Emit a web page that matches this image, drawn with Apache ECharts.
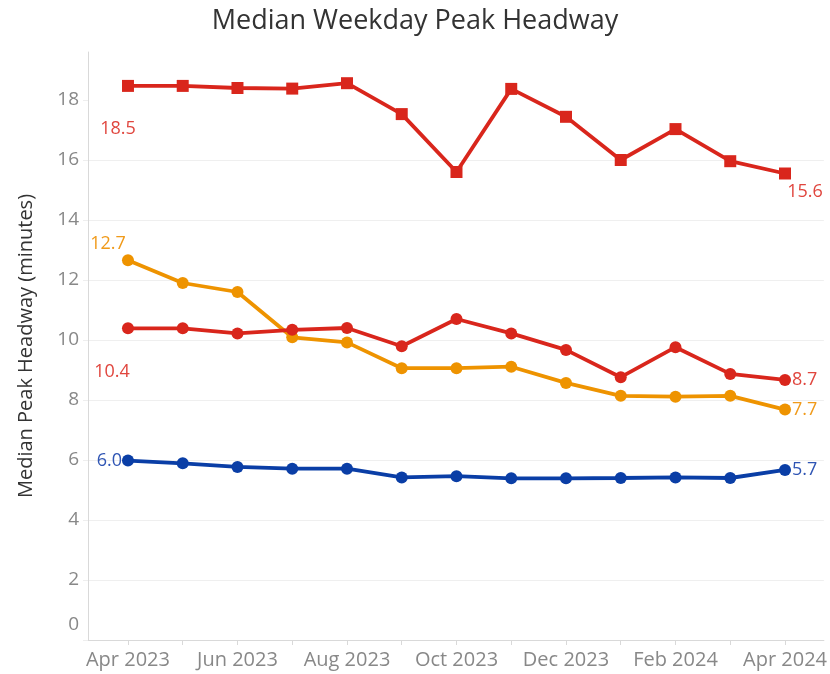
<!DOCTYPE html>
<html>
<head>
<meta charset="utf-8">
<script src="https://cdn.jsdelivr.net/npm/echarts@6/dist/echarts.min.js"></script>
<style>
  html, body { margin: 0; padding: 0; background: #fff; }
  #chart { width: 830px; height: 674px; }
</style>
</head>
<body>
<div id="chart"></div>
<script>
const months = ['Apr 2023', 'May 2023', 'Jun 2023', 'Jul 2023', 'Aug 2023', 'Sep 2023', 'Oct 2023',
  'Nov 2023', 'Dec 2023', 'Jan 2024', 'Feb 2024', 'Mar 2024', 'Apr 2024']
const redSquare = [18.47, 18.47, 18.4, 18.38, 18.56, 17.53, 15.6, 18.37, 17.44, 16.0, 17.03, 15.96, 15.55]
const orange = [12.66, 11.9, 11.6, 10.09, 9.92, 9.06, 9.06, 9.11, 8.57, 8.14, 8.11, 8.14, 7.68]
const redCircle = [10.39, 10.39, 10.22, 10.34, 10.4, 9.79, 10.7, 10.22, 9.67, 8.76, 9.76, 8.87, 8.67]
const blue = [5.98, 5.89, 5.77, 5.71, 5.71, 5.42, 5.46, 5.39, 5.39, 5.4, 5.42, 5.4, 5.67]
const yTicks = [0, 2, 4, 6, 8, 10, 12, 14, 16, 18]

const font = '"Open Sans", sans-serif'

function buildData(values, first, last, color) {
  return values.map((v, i) => {
    const item = { value: [i, v] }
    const cfg = i === 0 ? first : (i === values.length - 1 ? last : null)
    if (cfg) {
      item.label = Object.assign({
        show: true,
        formatter: v.toFixed(1),
        color: color,
        fontSize: 18,
        fontFamily: font
      }, cfg)
    }
    return item
  })
}

function makeSeries(name, values, color, labelColor, symbol, size, first, last) {
  return {
    name: name,
    type: 'line',
    data: buildData(values, first, last, labelColor),
    symbol: symbol,
    symbolSize: size,
    lineStyle: { color: color, width: 3.8 },
    itemStyle: { color: color },
    z: 3
  }
}

const chart = echarts.init(document.getElementById('chart'))

chart.setOption({
  animation: false,
  backgroundColor: '#fff',
  title: {
    text: 'Median Weekday Peak Headway',
    left: 'center',
    top: 3,
    textStyle: { color: '#333', fontSize: 27, fontWeight: 'normal', fontFamily: font }
  },
  grid: { left: 88, right: 5, top: 52, bottom: 34 },
  xAxis: {
    type: 'value',
    min: -0.73,
    max: 12.71,
    splitLine: { show: false },
    axisLine: { show: true, lineStyle: { color: '#d9d9d9', width: 1 } },
    axisTick: { show: true, length: 5, lineStyle: { color: '#d9d9d9' }, customValues: months.map((m, i) => i) },
    axisLabel: {
      customValues: months.map((m, i) => i).filter(i => i % 2 === 0),
      formatter: v => months[Math.round(v)],
      color: '#888',
      fontSize: 20,
      fontFamily: font,
      margin: 10
    }
  },
  yAxis: {
    type: 'value',
    min: 0,
    max: 19.6,
    name: 'Median Peak Headway (minutes)',
    nameLocation: 'middle',
    nameGap: 52,
    nameTextStyle: { color: '#333', fontSize: 20, fontFamily: font },
    axisLine: { show: true, onZero: false, lineStyle: { color: '#d9d9d9' } },
    axisTick: { show: true, length: 5, lineStyle: { color: '#eee' }, customValues: yTicks },
    splitLine: { show: true, lineStyle: { color: '#efefef', width: 1 }, showMaxLine: false },
    axisLabel: {
      customValues: yTicks,
      color: '#888',
      fontSize: 19,
      fontFamily: font,
      margin: 9,
      formatter: v => v === 0 ? '{z|0}' : String(v),
      rich: { z: { color: '#888', fontSize: 19, fontFamily: font, padding: [0, 0, 30, 0] } }
    }
  },
  series: [
    makeSeries('Blue', blue, '#0a3ea6', '#2f55b4', 'circle', 12,
      { position: 'left', distance: 0 }, { position: 'right', distance: 1 }),
    makeSeries('Orange', orange, '#ee9300', '#f09a1a', 'circle', 12,
      { position: 'inside', offset: [-20, -16] }, { position: 'right', distance: 1 }),
    makeSeries('Red', redCircle, '#d9261c', '#e0463e', 'circle', 12,
      { position: 'inside', offset: [-16, 44] }, { position: 'right', distance: 1 }),
    makeSeries('Red Squares', redSquare, '#d9261c', '#e0463e', 'rect', 12,
      { position: 'inside', offset: [-10, 43] }, { position: 'inside', offset: [20, 18] })
  ]
})
</script>
</body>
</html>
